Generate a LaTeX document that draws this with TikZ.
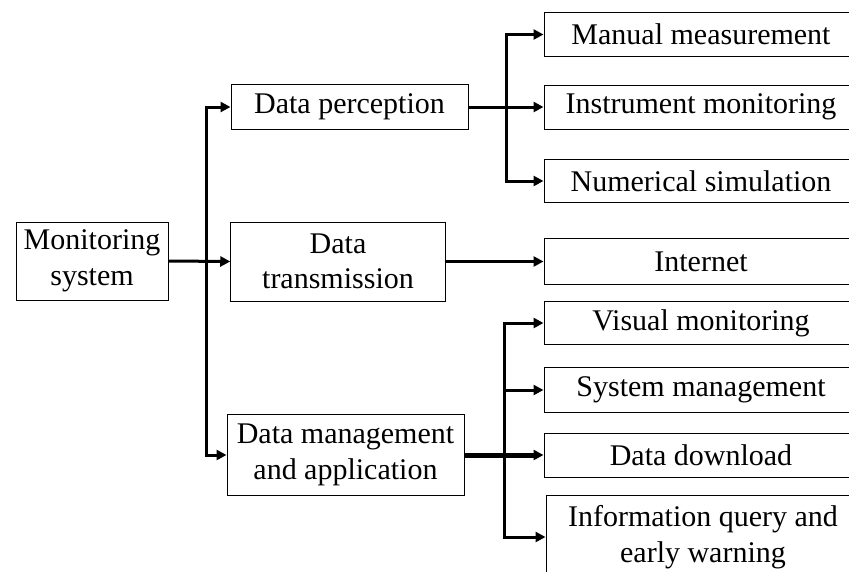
\documentclass[tikz,border=0pt]{standalone}
\usepackage{fontspec}
\setmainfont{Liberation Serif}
\usetikzlibrary{arrows.meta}
\tikzset{
  box/.style={draw, line width=1pt, align=center, inner sep=0pt,
    font=\fontsize{30}{35.5}\selectfont},
  link/.style={line width=3pt, -{Triangle[length=10pt,width=10pt]}}
}
\begin{document}
\begin{tikzpicture}[x=1pt,y=-1pt]
  \useasboundingbox (0,0) rectangle (849,571);
  \clip (0,0) rectangle (849,571);
  \draw
    (92,261) node[box, minimum width=152pt, minimum height=78pt] (mon) {Monitoring\\system}
    (349.5,107) node[box, minimum width=237pt, minimum height=45pt] (per) {Data perception}
    (338,261.5) node[box, minimum width=214.5pt, minimum height=79pt] (tra) {Data\\transmission}
    (345.5,455) node[box, minimum width=237pt, minimum height=80.5pt] (app) {Data management\\and application}
    (701,34.5) node[box, minimum width=314pt, minimum height=44.5pt] (mm) {Manual measurement}
    (701,107) node[box, minimum width=314pt, minimum height=44pt] (im) {Instrument monitoring}
    (701,181) node[box, minimum width=314pt, minimum height=43.5pt] (ns) {Numerical simulation}
    (701,261.5) node[box, minimum width=314pt, minimum height=45.5pt] (net) {Internet}
    (701,323) node[box, minimum width=314pt, minimum height=43.5pt] (vm) {Visual monitoring}
    (701,390) node[box, minimum width=314pt, minimum height=45pt] (sm) {System management}
    (701,455) node[box, minimum width=314pt, minimum height=44pt] (dd) {Data download}
    (703,537) node[box, minimum width=314pt, minimum height=84pt] (iq) {Information query and\\early warning};
  \coordinate (j1) at (206,261);
  \coordinate (j2) at (506,107);
  \coordinate (j3) at (504,455);
  \begin{scope}[link]
    \draw (mon.east) -- (tra.west);
    \draw (j1) |- (per.west);
    \draw (j1) |- (app.west);
    \draw (per.east) -- (im.west);
    \draw (j2) |- (mm.west);
    \draw (j2) |- (ns.west);
    \draw (tra.east) -- (net.west);
    \draw[line width=5pt] (app.east) -- (dd.west);
    \draw (j3) |- (vm.west);
    \draw (j3) |- (sm.west);
    \draw (j3) |- (iq.west);
  \end{scope}
\end{tikzpicture}
\end{document}
